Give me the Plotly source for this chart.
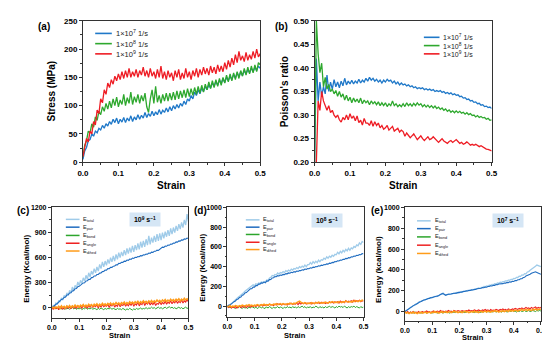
import plotly.graph_objects as go

# ---------------- data ----------------
STRAIN = [round(0.005 * i, 3) for i in range(101)]

STRESS_1E7 = [5, 20, 26, 38, 40, 50, 46, 55, 52, 60,
              57, 65, 60, 68, 64, 72, 67, 76, 70, 78,
              68, 76, 71, 79, 70, 78, 73, 82, 72, 80,
              75, 84, 76, 83, 78, 88, 79, 86, 81, 90,
              82, 89, 84, 93, 85, 92, 88, 96, 89, 98,
              91, 100, 94, 102, 96, 104, 99, 108, 102, 112,
              108, 118, 112, 124, 118, 128, 121, 131, 125, 134,
              128, 137, 131, 140, 134, 143, 136, 145, 139, 148,
              141, 150, 144, 152, 146, 155, 149, 158, 151, 160,
              153, 162, 156, 164, 158, 166, 160, 168, 162, 170,
              166]
STRESS_1E8 = [10, 30, 38, 55, 52, 68, 62, 80, 74, 90,
              84, 98, 90, 104, 94, 108, 96, 112, 100, 115,
              98, 110, 102, 120, 100, 114, 104, 124, 102, 116,
              106, 120, 104, 118, 108, 122, 98, 88, 112, 128,
              104, 134, 106, 118, 104, 120, 108, 122, 108, 122,
              110, 124, 110, 126, 112, 126, 114, 128, 114, 130,
              116, 130, 118, 132, 120, 134, 122, 136, 124, 138,
              128, 142, 130, 144, 132, 146, 134, 148, 136, 150,
              140, 154, 142, 156, 144, 158, 146, 160, 148, 162,
              152, 166, 154, 168, 156, 170, 158, 172, 160, 176,
              172]
STRESS_1E9 = [10, 28, 42, 36, 55, 50, 72, 66, 92, 86,
              112, 105, 128, 120, 140, 132, 146, 138, 152, 144,
              156, 146, 160, 148, 162, 150, 166, 150, 160, 152,
              164, 150, 162, 154, 168, 152, 162, 150, 166, 152,
              160, 148, 164, 150, 170, 148, 160, 146, 162, 150,
              158, 144, 162, 150, 164, 146, 158, 148, 166, 150,
              160, 146, 162, 152, 166, 150, 164, 154, 168, 156,
              166, 154, 170, 158, 168, 156, 172, 160, 170, 160,
              176, 164, 180, 168, 184, 172, 190, 176, 196, 180,
              188, 178, 194, 180, 190, 182, 196, 184, 200, 186,
              192]

POISSON_1E7 = [0.20, 0.42, 0.33, 0.37, 0.34, 0.36, 0.345, 0.385, 0.35, 0.37,
               0.355, 0.375, 0.36, 0.37, 0.358, 0.372, 0.362, 0.378, 0.364, 0.372,
               0.366, 0.374, 0.366, 0.372, 0.368, 0.376, 0.368, 0.374, 0.370, 0.378,
               0.372, 0.380, 0.374, 0.378, 0.372, 0.376, 0.370, 0.374, 0.368, 0.374,
               0.370, 0.376, 0.372, 0.374, 0.368, 0.372, 0.366, 0.370, 0.364, 0.368,
               0.364, 0.366, 0.362, 0.364, 0.360, 0.362, 0.358, 0.360, 0.356, 0.358,
               0.356, 0.358, 0.354, 0.356, 0.353, 0.355, 0.352, 0.354, 0.350, 0.352,
               0.350, 0.352, 0.348, 0.350, 0.346, 0.348, 0.345, 0.347, 0.343, 0.345,
               0.342, 0.343, 0.339, 0.340, 0.336, 0.337, 0.333, 0.334, 0.330, 0.331,
               0.327, 0.328, 0.324, 0.325, 0.321, 0.322, 0.318, 0.319, 0.316, 0.317,
               0.314]
POISSON_1E8 = [0.20, 0.50, 0.43, 0.39, 0.41, 0.36, 0.38, 0.355, 0.365, 0.35,
               0.355, 0.345, 0.352, 0.34, 0.35, 0.338, 0.345, 0.332, 0.342, 0.33,
               0.338, 0.326, 0.336, 0.328, 0.334, 0.326, 0.336, 0.324, 0.332, 0.326,
               0.330, 0.322, 0.330, 0.324, 0.328, 0.322, 0.328, 0.320, 0.326, 0.320,
               0.326, 0.318, 0.324, 0.320, 0.330, 0.320, 0.324, 0.318, 0.322, 0.318,
               0.324, 0.318, 0.326, 0.320, 0.324, 0.319, 0.325, 0.320, 0.326, 0.321,
               0.324, 0.318, 0.322, 0.317, 0.321, 0.316, 0.320, 0.315, 0.319, 0.314,
               0.317, 0.312, 0.315, 0.310, 0.313, 0.308, 0.311, 0.306, 0.309, 0.305,
               0.309, 0.305, 0.308, 0.304, 0.306, 0.302, 0.305, 0.301, 0.303, 0.299,
               0.300, 0.296, 0.299, 0.295, 0.297, 0.294, 0.295, 0.291, 0.293, 0.289,
               0.290]
POISSON_1E9 = [None, 0.20, 0.33, 0.31, 0.35, 0.33, 0.32, 0.31, 0.32, 0.305,
               0.31, 0.30, 0.295, 0.30, 0.29, 0.285, 0.295, 0.29, 0.30, 0.29,
               0.303, 0.293, 0.298, 0.288, 0.298, 0.284, 0.289, 0.279, 0.293, 0.283,
               0.283, 0.278, 0.288, 0.276, 0.286, 0.278, 0.283, 0.273, 0.278, 0.27,
               0.273, 0.278, 0.268, 0.272, 0.276, 0.266, 0.27, 0.272, 0.264, 0.268,
               0.265, 0.255, 0.262, 0.258, 0.252, 0.256, 0.26, 0.254, 0.248, 0.252,
               0.256, 0.25, 0.246, 0.25, 0.254, 0.248, 0.25, 0.254, 0.25, 0.245,
               0.242, 0.246, 0.25, 0.245, 0.242, 0.24, 0.244, 0.246, 0.242, 0.245,
               0.248, 0.244, 0.24, 0.242, 0.238, 0.24, 0.243, 0.24, 0.236, 0.238,
               0.236, 0.238, 0.235, 0.233, 0.235, 0.232, 0.23, 0.228, 0.227, 0.225,
               0.224]

# (c) 10^9 s^-1
C_TOTAL = [0, 30, 20, 60, 40, 90, 70, 120, 95, 150,
           130, 180, 150, 210, 180, 250, 210, 270, 240, 310,
           270, 330, 290, 360, 320, 390, 340, 420, 370, 440,
           400, 470, 420, 490, 440, 520, 470, 550, 490, 560,
           510, 580, 530, 600, 550, 620, 560, 640, 580, 660,
           600, 670, 620, 690, 630, 710, 650, 720, 660, 740,
           670, 750, 690, 770, 700, 790, 720, 800, 730, 820,
           750, 860, 760, 840, 780, 860, 790, 880, 800, 890,
           810, 900, 830, 910, 850, 930, 860, 950, 880, 960,
           900, 980, 920, 1000, 940, 1020, 960, 1050, 990, 1120,
           1030]
C_PAIR = [0, 18, 26, 44, 54, 74, 82, 102, 106, 126,
          131, 154, 157, 179, 182, 204, 207, 229, 232, 254,
          258, 276, 281, 299, 301, 322, 324, 342, 341, 362,
          364, 382, 381, 399, 401, 416, 418, 434, 436, 452,
          451, 469, 468, 484, 484, 499, 501, 516, 514, 532,
          531, 544, 544, 559, 556, 572, 568, 584, 581, 596,
          591, 604, 602, 614, 611, 624, 622, 634, 632, 644,
          641, 656, 652, 666, 664, 676, 676, 690, 686, 702,
          712, 726, 724, 738, 736, 750, 748, 762, 760, 774,
          773, 788, 786, 800, 798, 812, 810, 824, 821, 834,
          830]
C_BOND = [0, -5, 5, -10, 0, -15, -5, -10, 5, -15,
          -5, -10, 0, -15, -5, 5, -10, 0, -15, -5,
          -10, 0, -20, -5, -10, 5, -15, -5, -10, 0,
          -15, -5, -10, -20, -5, -15, 0, -10, -20, -5,
          -15, -5, -10, 0, -15, -5, -10, -20, -5, -15,
          -10, -20, -5, -15, -25, -10, -20, -5, -15, -25,
          -10, -20, -5, -15, -10, 0, -15, -5, -10, 5,
          -10, 0, -5, 10, -5, 5, -10, 0, 10, -5,
          5, -10, 0, 10, -5, 5, 15, 0, 10, -5,
          5, -10, 0, 10, -5, 5, -10, 0, 10, -5,
          0]
C_ANGLE = [0, -15, 10, -10, 5, -20, 15, -5, -15, 10,
           -10, 20, -5, 15, -10, 25, 0, 20, -5, 30,
           5, 25, -5, 35, 10, 20, 0, 30, 10, 40,
           5, 30, 15, 40, 0, 35, 10, 45, 15, 30,
           20, 45, 5, 40, 25, 50, 10, 35, 20, 55,
           15, 40, 30, 60, 20, 45, 25, 55, 30, 65,
           20, 50, 35, 70, 25, 55, 40, 80, 30, 60,
           45, 75, 35, 60, 40, 70, 30, 55, 45, 75,
           40, 65, 50, 80, 45, 70, 55, 85, 50, 75,
           60, 90, 55, 80, 65, 95, 60, 85, 70, 100,
           75]
C_DIHED = [0, 10, -5, 15, 0, 20, -5, 25, 5, 20,
           0, 25, 10, 30, 5, 25, 10, 35, 15, 30,
           10, 35, 20, 40, 15, 35, 20, 45, 25, 40,
           20, 45, 30, 50, 25, 45, 30, 55, 35, 50,
           30, 55, 40, 60, 35, 55, 40, 65, 45, 60,
           40, 65, 50, 70, 45, 65, 50, 75, 55, 70,
           50, 75, 60, 80, 55, 75, 60, 85, 65, 80,
           60, 85, 70, 90, 65, 85, 70, 95, 75, 90,
           70, 95, 80, 100, 75, 95, 80, 105, 85, 100,
           80, 105, 90, 110, 85, 105, 90, 115, 95, 110,
           95]

# (d) 10^8 s^-1
D_TOTAL = [0, 5, 15, 25, 40, 50, 65, 75, 90, 100,
           110, 125, 135, 150, 160, 170, 185, 195, 205, 215,
           205, 225, 220, 235, 230, 245, 240, 250, 245, 265,
           260, 285, 290, 310, 305, 320, 315, 335, 325, 340,
           335, 350, 340, 360, 350, 365, 355, 375, 365, 380,
           375, 390, 380, 400, 390, 405, 395, 415, 400, 420,
           420, 440, 425, 450, 435, 455, 440, 465, 450, 470,
           465, 485, 475, 500, 485, 505, 495, 515, 505, 525,
           520, 545, 530, 555, 540, 565, 550, 575, 560, 585,
           565, 590, 580, 605, 595, 620, 610, 640, 625, 655,
           645]
D_PAIR = [-5, 8, 10, 25, 30, 45, 52, 68, 72, 88,
          92, 111, 115, 133, 137, 153, 158, 175, 177, 193,
          192, 208, 207, 223, 222, 235, 233, 243, 235, 255,
          252, 268, 269, 285, 287, 298, 297, 308, 305, 315,
          312, 321, 319, 329, 327, 336, 333, 343, 339, 349,
          345, 355, 352, 361, 359, 368, 365, 375, 372, 381,
          379, 388, 385, 395, 392, 401, 399, 408, 405, 415,
          412, 421, 419, 428, 425, 435, 433, 443, 441, 451,
          449, 459, 457, 467, 465, 475, 473, 483, 481, 491,
          489, 499, 497, 507, 505, 515, 513, 523, 521, 531,
          530]
D_BOND = [-5, -15, -10, -20, -5, -15, -25, -10, -20, -5,
          -15, -25, -10, -20, -15, -25, -10, -20, -5, -15,
          -20, -10, -25, -15, -5, -20, -10, -25, -15, -10,
          -20, -5, -15, -25, -10, -20, -15, -5, -20, -10,
          -15, -25, -10, -20, -5, -15, -10, -20, -5, -15,
          -10, -20, -5, -15, -10, 0, -15, -5, -20, -10,
          -15, -5, -20, -10, -15, 0, -10, -20, -5, -15,
          -10, -20, -5, -15, -10, 0, -15, -5, -10, -20,
          -5, -15, 0, -10, -5, -15, 0, -10, -20, -5,
          -15, -5, -10, 0, -15, -5, -10, -20, -5, -15,
          -10]
D_ANGLE = [-5, -15, 0, -20, -10, -15, -5, -20, -10, 0,
           -15, -5, -10, 0, -15, -5, 5, -10, 0, -5,
           5, -5, 10, 0, 5, 15, 0, 10, 5, 15,
           5, 20, 10, 15, 5, 20, 10, 25, 15, 20,
           10, 25, 15, 20, 10, 25, 20, 30, 15, 25,
           20, 30, 15, 35, 20, 30, 25, 35, 20, 30,
           25, 35, 20, 30, 25, 40, 30, 35, 25, 40,
           30, 40, 25, 35, 30, 45, 35, 40, 30, 45,
           35, 45, 30, 50, 40, 45, 35, 55, 40, 50,
           45, 55, 40, 60, 45, 55, 50, 60, 45, 55,
           50]
D_DIHED = [0, -5, 5, -10, 0, -5, 5, 0, -5, 5,
           0, 10, 5, 0, 10, 5, 15, 5, 10, 0,
           10, 5, 15, 10, 5, 15, 10, 20, 10, 15,
           10, 20, 15, 10, 20, 15, 25, 15, 20, 25,
           15, 25, 20, 15, 25, 20, 30, 25, 20, 30,
           25, 35, 40, 50, 40, 30, 25, 35, 30, 25,
           30, 25, 35, 30, 25, 35, 30, 40, 35, 30,
           35, 30, 40, 35, 30, 40, 35, 45, 40, 35,
           40, 35, 45, 40, 35, 45, 40, 50, 45, 40,
           45, 40, 50, 45, 55, 50, 45, 55, 50, 60,
           55]

# (e) 10^7 s^-1
E_TOTAL = [0, 6, 20, 26, 40, 44, 58, 60, 74, 76,
           90, 90, 102, 102, 114, 113, 124, 122, 132, 130,
           138, 136, 146, 143, 153, 153, 164, 166, 178, 163,
           160, 160, 168, 166, 172, 170, 177, 175, 183, 180,
           188, 184, 193, 190, 198, 194, 203, 200, 208, 205,
           213, 210, 220, 218, 226, 224, 232, 230, 240, 238,
           246, 245, 253, 252, 260, 258, 267, 265, 274, 272,
           281, 279, 288, 287, 295, 294, 302, 301, 309, 308,
           318, 316, 328, 327, 340, 338, 352, 350, 364, 362,
           380, 384, 396, 404, 414, 424, 436, 446, 442, 436,
           430]
E_PAIR = [0, 10, 16, 30, 34, 48, 52, 64, 68, 80,
          84, 94, 96, 106, 108, 117, 118, 126, 126, 134,
          133, 140, 140, 147, 148, 157, 158, 170, 173, 167,
          156, 164, 164, 170, 168, 174, 173, 179, 177, 184,
          182, 188, 187, 194, 192, 198, 197, 204, 202, 208,
          207, 214, 212, 219, 218, 224, 223, 230, 229, 236,
          234, 241, 240, 247, 246, 253, 251, 259, 257, 265,
          264, 270, 268, 274, 273, 280, 278, 285, 283, 290,
          289, 297, 297, 305, 306, 315, 316, 327, 330, 342,
          346, 357, 358, 367, 370, 380, 382, 376, 370, 366,
          358]
E_BOND = [0, -10, -5, -15, -5, -10, -15, -5, -10, -15,
          -5, -10, -15, -5, -10, -5, -15, -10, -5, -10,
          -15, -5, -10, -5, -15, -10, -5, -10, -15, -5,
          -10, -5, -10, -15, -5, -10, -5, -10, 0, -10,
          -5, -10, 0, -5, -10, -5, 0, -10, -5, 0,
          -5, -10, 0, -5, 0, -10, -5, 0, -5, 5,
          -5, 0, -5, 5, -5, 0, 5, -5, 0, 5,
          0, -5, 5, 0, 5, -5, 0, 5, 0, 10,
          0, 5, -5, 5, 0, 10, 0, 5, 10, 0,
          5, 10, 0, 5, 10, 5, 0, 10, 5, 10,
          5]
E_ANGLE = [-5, -10, 0, -15, -5, -10, 0, -15, -5, -10,
           0, -10, -5, 0, -10, -5, 5, -5, 0, -10,
           0, 5, -5, 0, 5, -5, 10, 0, 5, -5,
           5, 0, 10, 0, 5, -5, 10, 5, 0, 10,
           5, 0, 10, 5, 0, 10, 5, 15, 5, 10,
           5, 15, 10, 5, 15, 10, 5, 15, 10, 20,
           10, 15, 5, 20, 10, 15, 10, 20, 15, 10,
           20, 15, 25, 15, 20, 10, 25, 20, 15, 25,
           20, 30, 25, 20, 30, 25, 35, 25, 30, 40,
           30, 35, 25, 40, 30, 35, 45, 30, 40, 35,
           40]
E_DIHED = [-5, -15, -10, -20, -10, -15, -5, -15, -10, -20,
           -10, -15, -5, -15, -10, -5, -15, -10, -5, -15,
           -5, -10, 0, -10, -5, -15, -5, 0, -10, -5,
           0, -10, -5, 0, -10, -5, 5, -5, 0, -10,
           -5, 0, -10, -5, 5, -5, 0, -10, -5, 0,
           -5, 5, -5, 0, -10, 0, 5, -5, 0, 5,
           -5, 5, 0, -5, 5, 0, 10, 0, 5, -5,
           5, 0, 10, 0, 5, 10, 0, 15, 5, 10,
           5, 15, 10, 5, 15, 10, 20, 10, 15, 20,
           10, 20, 15, 10, 20, 15, 25, 15, 20, 25,
           20]

RATE_LABELS = ["1×10<sup>7</sup> 1/s", "1×10<sup>8</sup> 1/s", "1×10<sup>9</sup> 1/s"]
ENERGY_LABELS = ["E<sub>total</sub>", "E<sub>pair</sub>", "E<sub>bond</sub>",
                 "E<sub>angle</sub>", "E<sub>dihed</sub>"]

# ---------------- styling ----------------
W, H = 550, 341
FONT = "Liberation Sans"
AX = "#333333"
BLUE, GREEN, RED = "#1f78c8", "#2ea82e", "#ee1c24"
E_COLORS = ["#9fcbe9", "#1f6cc0", "#2ca52c", "#ee2222", "#ff9c1a"]
E_WIDTHS = [1.3, 1.1, 1.0, 1.1, 1.5]


def px(x):
    return x / W


def py(y):
    return 1 - y / H


def xaxis(dom, anchor, size):
    return dict(domain=[px(dom[0]), px(dom[1])], range=[0, 0.5], anchor=anchor,
                dtick=0.1, tick0=0, tickformat=".1f",
                showline=True, linecolor=AX, linewidth=1, mirror=True,
                ticks="outside", ticklen=3, tickwidth=1, tickcolor=AX,
                minor=dict(dtick=0.05, ticks="outside", ticklen=1.5, tickcolor=AX),
                showgrid=False, zeroline=False,
                tickfont=dict(family=FONT, size=size, color="black", weight="bold"))


def yaxis(dom, anchor, rng, dtick, mdtick, size, fmt=None):
    d = dict(domain=[py(dom[1]), py(dom[0])], range=rng, anchor=anchor,
             dtick=dtick, tick0=0,
             showline=True, linecolor=AX, linewidth=1, mirror=True,
             ticks="outside", ticklen=3, tickwidth=1, tickcolor=AX,
             minor=dict(dtick=mdtick, ticks="outside", ticklen=1.5, tickcolor=AX),
             showgrid=False, zeroline=False,
             tickfont=dict(family=FONT, size=size, color="black", weight="bold"))
    if fmt:
        d["tickformat"] = fmt
    return d


fig = go.Figure()


def line(x, y, color, width, ax):
    fig.add_trace(go.Scatter(x=x, y=y, mode="lines", showlegend=False,
                             line=dict(color=color, width=width),
                             xaxis="x" + ax, yaxis="y" + ax, hoverinfo="skip"))


# (a)
for ys, c in zip([STRESS_1E7, STRESS_1E8, STRESS_1E9], [BLUE, GREEN, RED]):
    line(STRAIN, ys, c, 1.3, "")
# (b)
for ys, c in zip([POISSON_1E7, POISSON_1E8, POISSON_1E9], [BLUE, GREEN, RED]):
    line(STRAIN, ys, c, 1.3, "2")
# (c)(d)(e)
for ax, series in [("3", [C_TOTAL, C_PAIR, C_BOND, C_ANGLE, C_DIHED]),
                   ("4", [D_TOTAL, D_PAIR, D_BOND, D_ANGLE, D_DIHED]),
                   ("5", [E_TOTAL, E_PAIR, E_BOND, E_ANGLE, E_DIHED])]:
    for ys, c, w in zip(series, E_COLORS, E_WIDTHS):
        line(STRAIN, ys, c, w, ax)

annotations = []
shapes = []


def ann(text, x, y, size, bold=True, angle=0, xanchor="center", color="black", **kw):
    d = dict(text=text, x=px(x), y=py(y), xref="paper", yref="paper", showarrow=False,
             textangle=angle, xanchor=xanchor, yanchor="middle",
             font=dict(family=FONT, size=size, color=color,
                       weight="bold" if bold else "normal"))
    d.update(kw)
    annotations.append(d)


# panel letters
for t, x, y in [("(a)", 31, 15), ("(b)", 273, 15), ("(c)", 9, 204), ("(d)", 191, 204), ("(e)", 371, 204)]:
    ann(t, x, y, 10)

# axis titles
ann("Stress (MPa)", 38, 81.5, 10, angle=-90)
ann("Poisson's ratio", 276, 81.5, 10, angle=-90)
ann("Strain", 161, 178, 10)
ann("Strain", 398, 178, 10)
ann("Strain", 108.5, 332, 7.5)
ann("Strain", 287.7, 332, 7.5)
ann("Strain", 469, 334, 7.5)
ann("Energy (Kcal/mol)", 12, 264, 8, angle=-90)
ann("Energy (Kcal/mol)", 192, 263, 8, angle=-90)
ann("Energy (kcal/mol)", 372, 264, 8, angle=-90)

# rate boxes
for t, x, y in [("10<sup>9</sup> s<sup>−1</sup>", 133.5, 213.5),
                ("10<sup>8</sup> s<sup>−1</sup>", 320, 214),
                ("10<sup>7</sup> s<sup>−1</sup>", 505, 214)]:
    ann(t, x, y, 7, bgcolor="#d5e6f5", width=30, height=13, borderpad=0)


def legend(x0, x1, ys, labels, colors, widths, size):
    for yy, lab, c, w in zip(ys, labels, colors, widths):
        shapes.append(dict(type="line", xref="paper", yref="paper",
                           x0=px(x0), x1=px(x1), y0=py(yy), y1=py(yy),
                           line=dict(color=c, width=w)))
        ann(lab, x1 + 2, yy, size, bold=False, xanchor="left", color="#222222")


legend(83, 100, [22, 32.5, 43], RATE_LABELS, [BLUE, GREEN, RED], [1.6] * 3, 7.5)
legend(419, 435, [26, 34.5, 43], RATE_LABELS, [BLUE, GREEN, RED], [1.6] * 3, 7)
legend(53, 67, [213, 221, 229.5, 237.5, 245.5], ENERGY_LABELS, E_COLORS, [1.5] * 5, 5.5)
legend(237, 251, [213.5, 221, 228.5, 236.5, 244], ENERGY_LABELS, E_COLORS, [1.5] * 5, 5.5)
legend(412, 426, [214.5, 222.5, 231, 239.5, 248], ENERGY_LABELS, E_COLORS, [1.5] * 5, 5.5)

fig.update_layout(
    width=W, height=H, margin=dict(l=0, r=0, t=0, b=0),
    paper_bgcolor="white", plot_bgcolor="white", showlegend=False,
    xaxis=xaxis((70.5, 251.7), "y", 8),
    yaxis=yaxis((9, 154.3), "x", [0, 250], 50, 25, 8),
    xaxis2=xaxis((307.3, 488.3), "y2", 8),
    yaxis2=yaxis((9, 154.3), "x2", [0.2, 0.5], 0.05, 0.025, 8, ".2f"),
    xaxis3=xaxis((38.7, 178.3), "y3", 7),
    yaxis3=yaxis((200.7, 314), "x3", [-116, 1200], 300, 150, 7),
    xaxis4=xaxis((218, 357.3), "y4", 7),
    yaxis4=yaxis((200.7, 313), "x4", [-108, 1000], 200, 100, 7),
    xaxis5=xaxis((399.7, 538.7), "y5", 7),
    yaxis5=yaxis((200.7, 317.3), "x5", [-90, 1000], 200, 100, 7),
    annotations=annotations, shapes=shapes,
)

fig.write_html("out.html")
